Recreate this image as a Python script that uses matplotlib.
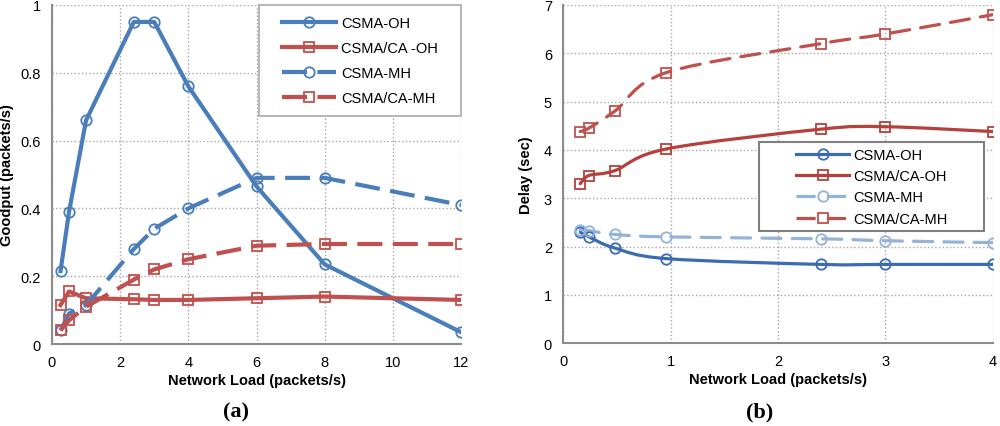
import matplotlib.pyplot as plt
import numpy as np
from matplotlib.path import Path
from matplotlib.patches import PathPatch, Rectangle

plt.rcParams['font.family'] = ['Liberation Sans', 'DejaVu Sans']

# (a) Goodput
load_a = [0.25, 0.5, 1, 2.4, 3, 4, 6, 8, 12]
good_csma_oh = [0.215, 0.39, 0.66, 0.95, 0.95, 0.76, 0.465, 0.235, 0.035]
good_csmaca_oh = [0.115, 0.155, 0.135, 0.132, 0.13, 0.13, 0.135, 0.14, 0.13]
good_csma_mh = [0.04, 0.09, 0.115, 0.28, 0.34, 0.40, 0.49, 0.49, 0.41]
good_csmaca_mh = [0.04, 0.07, 0.11, 0.19, 0.22, 0.25, 0.29, 0.295, 0.295]
labels_a = ['CSMA-OH', 'CSMA/CA -OH', 'CSMA-MH', 'CSMA/CA-MH']

# (b) Delay
load_b = [0.16, 0.24, 0.48, 0.96, 2.4, 3, 4]
delay_csma_oh = [2.3, 2.2, 1.97, 1.75, 1.63, 1.63, 1.63]
delay_csmaca_oh = [3.3, 3.47, 3.57, 4.02, 4.43, 4.48, 4.38]
delay_csma_mh = [2.35, 2.33, 2.25, 2.2, 2.16, 2.12, 2.08]
delay_csmaca_mh = [4.38, 4.45, 4.8, 5.6, 6.2, 6.4, 6.8]
labels_b = ['CSMA-OH', 'CSMA/CA-OH', 'CSMA-MH', 'CSMA/CA-MH']

BLUE = '#4A7EBB'
RED = '#C0504D'
LBLUE = '#95B3D7'
DBLUE = '#3B6BB0'
DRED = '#B5403C'
SPINE = '#8C8C8C'
FS = 10.5


def smooth_path(ax, x, y, color, ls, lw):
    # Excel-style smoothed line: cubic bezier through the data points
    x = np.asarray(x, float)
    y = np.asarray(y, float)
    verts = [(x[0], y[0])]
    codes = [Path.MOVETO]
    n = len(x)
    for i in range(n - 1):
        p0 = np.array([x[max(i - 1, 0)], y[max(i - 1, 0)]])
        p1 = np.array([x[i], y[i]])
        p2 = np.array([x[i + 1], y[i + 1]])
        p3 = np.array([x[min(i + 2, n - 1)], y[min(i + 2, n - 1)]])
        c1 = p1 + (p2 - p0) / 6.0
        c2 = p2 - (p3 - p1) / 6.0
        verts += [tuple(c1), tuple(c2), tuple(p2)]
        codes += [Path.CURVE4] * 3
    ax.add_patch(PathPatch(Path(verts, codes), fill=False, edgecolor=color,
                           linestyle=ls, linewidth=lw, capstyle='round'))


def style_axes(ax):
    ax.grid(True, linestyle=':', color='#A6A6A6', linewidth=1.0)
    ax.set_axisbelow(True)
    for s in ['top', 'right']:
        ax.spines[s].set_visible(False)
    for s in ['left', 'bottom']:
        ax.spines[s].set_color(SPINE)
        ax.spines[s].set_linewidth(1.5)
    ax.tick_params(length=0, labelsize=FS, pad=8)


fig = plt.figure(figsize=(10, 4.27), dpi=100)
ax1 = fig.add_axes([0.052, 0.192, 0.409, 0.794])
ax2 = fig.add_axes([0.563, 0.194, 0.430, 0.792])

# panel (a)
lw = 3.0
ms = 7.5
dash_a = (6, 2.5)
ax1.plot(load_a, good_csma_oh, '-o', color=BLUE, lw=lw, ms=ms, mfc='none', mew=1.3, label=labels_a[0])
ax1.plot(load_a, good_csmaca_oh, '-s', color=RED, lw=lw, ms=ms, mfc='none', mew=1.3, label=labels_a[1])
ax1.plot(load_a, good_csma_mh, '--o', color=BLUE, lw=lw, ms=ms, mfc='none', mew=1.3, dashes=dash_a, label=labels_a[2])
ax1.plot(load_a, good_csmaca_mh, '--s', color=RED, lw=lw, ms=ms, mfc='none', mew=1.3, dashes=dash_a, label=labels_a[3])
ax1.set_xlim(0, 12)
ax1.set_ylim(0, 1)
ax1.set_xticks([0, 2, 4, 6, 8, 10, 12])
ax1.set_yticks([0, 0.2, 0.4, 0.6, 0.8, 1])
ax1.set_yticklabels(['0', '0.2', '0.4', '0.6', '0.8', '1'])
style_axes(ax1)
ax1.set_xlabel('Network Load (packets/s)', fontsize=FS, fontweight='bold', labelpad=3)
ax1.set_ylabel('Goodput (packets/s)', fontsize=FS, fontweight='bold')
ax1.yaxis.set_label_coords(-0.094, 0.5)
ax1.add_patch(Rectangle((0.506, 0.673), 0.494, 0.327, transform=ax1.transAxes, fill=True,
                        facecolor='white', edgecolor='#B8B8B8', lw=1.5, zorder=4, clip_on=False))
leg1 = ax1.legend(loc='center', bbox_to_anchor=(0.753, 0.836), fontsize=FS, frameon=False,
                  handlelength=3.75, labelspacing=0.75, borderpad=0.0, handletextpad=0.35)
leg1.set_zorder(5)

# panel (b)
lw2 = 2.3
dash_b = (6, 3.5)
series_b = [
    (delay_csma_oh, DBLUE, '-', 'o'),
    (delay_csmaca_oh, DRED, '-', 's'),
    (delay_csma_mh, LBLUE, '--', 'o'),
    (delay_csmaca_mh, RED, '--', 's'),
]
for (vals, col, ls, mk), lab in zip(series_b, labels_b):
    smooth_path(ax2, load_b, vals, col, (0, dash_b) if ls == '--' else '-', lw2)
    ax2.plot(load_b, vals, linestyle='none', marker=mk, color=col, ms=ms, mfc='none', mew=1.3)
    ax2.plot([], [], linestyle=ls, marker=mk, color=col, lw=lw2, ms=ms, mfc='none', mew=1.3,
             label=lab, dashes=dash_b if ls == '--' else (None, None))
ax2.set_xlim(0, 4)
ax2.set_ylim(0, 7)
ax2.set_xticks([0, 1, 2, 3, 4])
ax2.set_yticks(range(0, 8))
style_axes(ax2)
ax2.set_xlabel('Network Load (packets/s)', fontsize=FS, fontweight='bold', labelpad=3)
ax2.set_ylabel('Delay (sec)', fontsize=FS, fontweight='bold')
ax2.yaxis.set_label_coords(-0.07, 0.5)
ax2.add_patch(Rectangle((0.456, 0.331), 0.523, 0.263, transform=ax2.transAxes, fill=True,
                        facecolor='white', edgecolor='#808080', lw=1.5, zorder=4, clip_on=False))
leg2 = ax2.legend(loc='center', bbox_to_anchor=(0.7175, 0.4625), fontsize=FS, frameon=False,
                  handlelength=3.7, labelspacing=0.5, borderpad=0.0, handletextpad=0.25)
leg2.set_zorder(5)

fig.text(0.236, 0.034, '(a)', ha='center', va='center', fontsize=16, fontweight='bold',
         family='Liberation Serif')
fig.text(0.760, 0.034, '(b)', ha='center', va='center', fontsize=16, fontweight='bold',
         family='Liberation Serif')

fig.savefig('out.png', dpi=100)
